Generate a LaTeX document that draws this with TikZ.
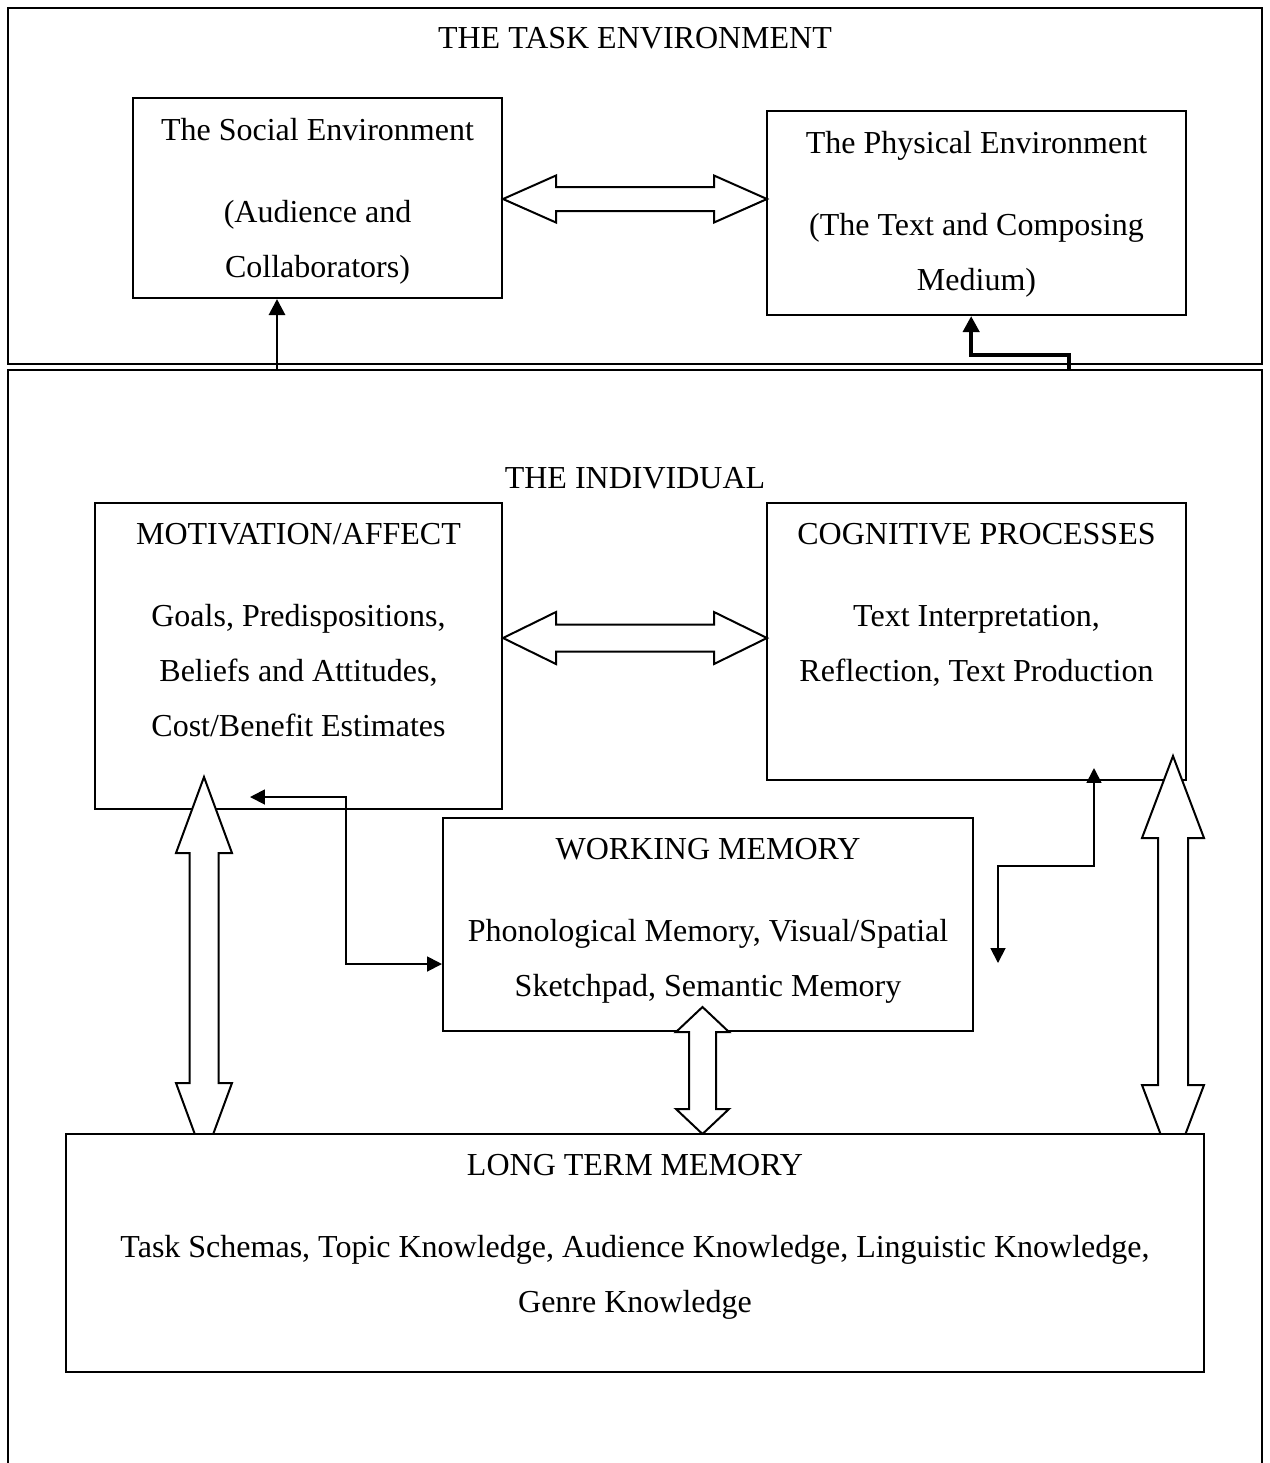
\documentclass[tikz,border=0pt]{standalone}
\usepackage{fontspec}
\setmainfont{Liberation Serif}
\usetikzlibrary{arrows.meta}
\newcommand{\pxl}{0.375pt}

\begin{document}
\begin{tikzpicture}[x=0.375pt, y=-0.375pt,
  box/.style={draw, line width=0.75pt, fill=white, inner sep=0pt},
  boxtext/.style={anchor=north, align=center, inner sep=0pt, font=\fontsize{12}{20.625}\selectfont},
  headtext/.style={inner sep=0pt, font=\fontsize{12}{14}\selectfont},
  fatlink/.style={draw, line width=0.75pt, fill=white},
  uplink/.style={line width=1.1pt, -{Triangle[length=6pt,width=6pt]}},
  steplink/.style={line width=1.6pt, -{Triangle[length=6pt,width=6pt]}},
  looplink/.style={line width=0.7pt, {Triangle[length=5.6pt,width=5.6pt]}-{Triangle[length=5.6pt,width=5.6pt]}}]
\useasboundingbox (0,0) rectangle (1270,1463);
% task environment
\node[box, minimum width=1254*\pxl, minimum height=356*\pxl] (task) at (635,186) {};
\node[headtext] (tasktitle) at (635,38) {THE TASK ENVIRONMENT};
\node[box, minimum width=369*\pxl, minimum height=200*\pxl] (social) at (317.5,198) {};
\node[boxtext] (socialtext) at ([yshift=-7.6pt]social.north) {The Social Environment\\[10.125pt](Audience and\\Collaborators)};
\node[box, minimum width=419*\pxl, minimum height=204*\pxl] (physical) at (976.5,213) {};
\node[boxtext] (physicaltext) at ([yshift=-7.6pt]physical.north) {The Physical Environment\\[10.125pt](The Text and Composing\\Medium)};
% the individual
\draw[line width=0.75pt] (8,1463) |- (1262,370) -- (1262,1463);
\node[headtext] (indivtitle) at (635,478) {THE INDIVIDUAL};
\node[box, minimum width=407*\pxl, minimum height=306*\pxl] (motiv) at (298.5,656) {};
\node[boxtext] (motivtext) at ([yshift=-7.6pt]motiv.north) {MOTIVATION/AFFECT\\[10.125pt]Goals, Predispositions,\\Beliefs and Attitudes,\\Cost/Benefit Estimates};
\node[box, minimum width=419*\pxl, minimum height=277*\pxl] (cog) at (976.5,641.5) {};
\node[boxtext] (cogtext) at ([yshift=-7.6pt]cog.north) {COGNITIVE PROCESSES\\[10.125pt]Text Interpretation,\\Reflection, Text Production};
\node[box, minimum width=530*\pxl, minimum height=213*\pxl] (wm) at (708,924.5) {};
\node[boxtext] (wmtext) at ([yshift=-7.6pt]wm.north) {WORKING MEMORY\\[10.125pt]Phonological Memory, Visual/Spatial\\Sketchpad, Semantic Memory};
% block arrows
\draw[fatlink] (social.east |- 0,199) -- ++(53,-23.5) -- ++(0,11.5) -- ++(158,0) -- ++(0,-11.5) -- ++(53,23.5)
  -- ++(-53,23.5) -- ++(0,-11.5) -- ++(-158,0) -- ++(0,11.5) -- cycle;
\draw[fatlink] (motiv.east |- 0,638) -- ++(53,-26) -- ++(0,12.5) -- ++(158,0) -- ++(0,-12.5) -- ++(53,26)
  -- ++(-53,26) -- ++(0,-12.5) -- ++(-158,0) -- ++(0,12.5) -- cycle;
\draw[fatlink] (204,777) -- ++(28,76) -- ++(-13.5,0) -- ++(0,230) -- ++(13.5,0) -- ++(-28,76)
  -- ++(-28,-76) -- ++(13.5,0) -- ++(0,-230) -- ++(-13.5,0) -- cycle;
\draw[fatlink] (1173,756) -- ++(31,82) -- ++(-16,0) -- ++(0,247) -- ++(16,0) -- ++(-31,82)
  -- ++(-31,-82) -- ++(16,0) -- ++(0,-247) -- ++(-16,0) -- cycle;
\draw[fatlink] (702.5,1007) -- ++(26.5,25) -- ++(-13,0) -- ++(0,77) -- ++(13,0) -- ++(-26.5,25)
  -- ++(-26.5,-25) -- ++(13,0) -- ++(0,-77) -- ++(-13,0) -- cycle;
% long term memory
\node[box, minimum width=1138*\pxl, minimum height=238*\pxl] (ltm) at (635,1253) {};
\node[boxtext] (ltmtext) at ([yshift=-7.6pt]ltm.north) {LONG TERM MEMORY\\[10.125pt]Task Schemas, Topic Knowledge, Audience Knowledge, Linguistic Knowledge,\\Genre Knowledge};
% line arrows
\coordinate (socialstart) at (277,370);
\coordinate (stepstart) at (1069,370);
\draw[uplink] (socialstart) -- (socialstart |- social.south);
\draw[steplink] (stepstart) -- ++(0,-15) -| ([xshift=-2pt]physical.south);
\coordinate (motivpt) at (250,797);
\draw[looplink] (motivpt) -- (346,797) |- (wm.west |- 0,964);
\coordinate (cogpt) at (1094,768);
\coordinate (wmpt) at (998,963);
\draw[looplink] (cogpt) -- (1094,866) -| (wmpt);
\end{tikzpicture}
\end{document}
